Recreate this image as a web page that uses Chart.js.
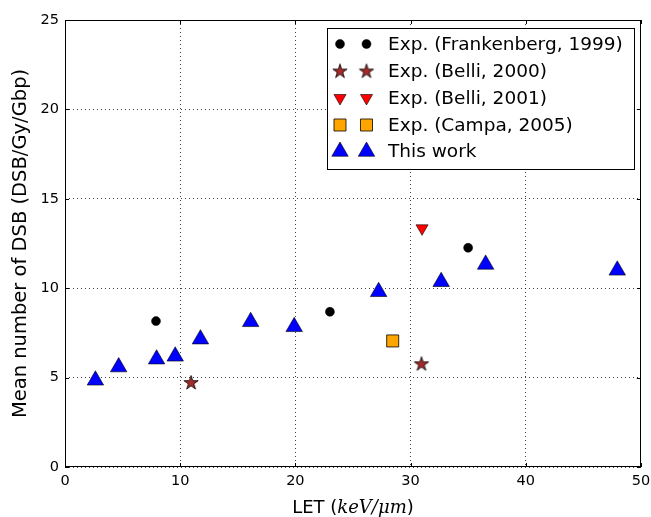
<!DOCTYPE html>
<html>
<head>
<meta charset="utf-8">
<script src="https://cdn.jsdelivr.net/npm/chart.js@4/dist/chart.umd.min.js"></script>
<style>
  html, body { margin: 0; padding: 0; background: #ffffff; }
  #wrap { width: 651px; height: 517px; position: relative; }
</style>
</head>
<body>
<div id="wrap"><canvas id="c" width="651" height="517"></canvas></div>
<script>
// ---- data ----
const franX = [7.9, 23.0, 35.0];
const franY = [8.16, 8.68, 12.26];
const belli2000X = [10.95, 30.95];
const belli2000Y = [4.7, 5.75];
const belli2001X = [31.0];
const belli2001Y = [13.35];
const campaX = [28.45];
const campaY = [7.05];
const workX = [2.64, 4.66, 7.95, 9.57, 11.76, 16.12, 19.9, 27.23, 32.66, 36.52, 47.95];
const workY = [4.85, 5.59, 6.03, 6.19, 7.15, 8.12, 7.84, 9.8, 10.36, 11.33, 11.0];
const xTicks = [0, 10, 20, 30, 40, 50];
const yTicks = [0, 5, 10, 15, 20, 25];
const seriesNames = ["Exp. (Frankenberg, 1999)", "Exp. (Belli, 2000)", "Exp. (Belli, 2001)", "Exp. (Campa, 2005)", "This work"];
const xTitleParts = ["LET (", "keV/\u03bcm", ")"];
const yTitle = "Mean number of DSB (DSB/Gy/Gbp)";

function pts(xs, ys) { return xs.map((x, i) => ({ x: x, y: ys[i] })); }

// filled star marker (Chart.js has no filled star)
function makeStar(outer, fill) {
  const s = Math.ceil(outer * 2 + 3);
  const cv = document.createElement('canvas');
  cv.width = s; cv.height = s;
  const g = cv.getContext('2d');
  const inner = outer * 0.381966;
  g.beginPath();
  for (let i = 0; i < 10; i++) {
    const r = i % 2 === 0 ? outer : inner;
    const a = -Math.PI / 2 + i * Math.PI / 5;
    const px = s / 2 + r * Math.cos(a), py = s / 2 + r * Math.sin(a);
    if (i === 0) g.moveTo(px, py); else g.lineTo(px, py);
  }
  g.closePath();
  g.fillStyle = fill; g.fill();
  g.lineWidth = 0.8; g.strokeStyle = '#000'; g.stroke();
  return cv;
}
const starImg = makeStar(7.5, '#a52a2a');

const styles = [
  { pointStyle: 'circle', radius: 4.5, bg: '#000000', border: '#000000', bw: 0.5, rot: 0 },
  { pointStyle: starImg, radius: 7, bg: '#a52a2a', border: '#000000', bw: 0.8, rot: 0 },
  { pointStyle: 'triangle', radius: 7, bg: '#ff0000', border: '#000000', bw: 0.6, rot: 180 },
  { pointStyle: 'rect', radius: 8.5, bg: '#ffa500', border: '#000000', bw: 0.8, rot: 0 },
  { pointStyle: 'triangle', radius: 9.5, bg: '#0000ff', border: '#000000', bw: 0.6, rot: 0 }
];
const dataSets = [pts(franX, franY), pts(belli2000X, belli2000Y), pts(belli2001X, belli2001Y), pts(campaX, campaY), pts(workX, workY)];

const datasets = dataSets.map((d, i) => ({
  label: seriesNames[i],
  data: d,
  pointStyle: styles[i].pointStyle,
  pointRadius: styles[i].radius,
  pointRotation: styles[i].rot,
  pointBackgroundColor: styles[i].bg,
  pointBorderColor: styles[i].border,
  pointBorderWidth: styles[i].bw,
  showLine: false
}));

function drawMarker(ctx, st, x, y) {
  ctx.save();
  ctx.fillStyle = st.bg;
  ctx.strokeStyle = st.border;
  ctx.lineWidth = st.bw;
  if (typeof st.pointStyle !== 'string') {
    ctx.drawImage(st.pointStyle, x - st.pointStyle.width / 2, y - st.pointStyle.height / 2);
  } else if (Chart.helpers && Chart.helpers.drawPoint) {
    Chart.helpers.drawPoint(ctx, { pointStyle: st.pointStyle, rotation: st.rot, radius: st.radius, borderWidth: st.bw }, x, y);
  }
  ctx.restore();
}

const decor = {
  id: 'decor',
  afterDraw(chart) {
    const ctx = chart.ctx;
    const a = chart.chartArea;
    const xs = chart.scales.x, ys = chart.scales.y;
    ctx.save();
    // frame
    ctx.strokeStyle = '#000';
    ctx.lineWidth = 1;
    ctx.strokeRect(Math.round(a.left) + 0.5, Math.round(a.top) + 0.5, Math.round(a.right - a.left) - 1, Math.round(a.bottom - a.top) - 1);
    // inward ticks on all sides
    ctx.beginPath();
    xTicks.forEach(v => {
      const px = Math.round(xs.getPixelForValue(v)) + 0.5;
      ctx.moveTo(px, a.bottom); ctx.lineTo(px, a.bottom - 4);
      ctx.moveTo(px, a.top); ctx.lineTo(px, a.top + 4);
    });
    yTicks.forEach(v => {
      const py = Math.round(ys.getPixelForValue(v)) + 0.5;
      ctx.moveTo(a.left, py); ctx.lineTo(a.left + 4, py);
      ctx.moveTo(a.right, py); ctx.lineTo(a.right - 4, py);
    });
    ctx.stroke();

    // legend
    const lx = 327.5, ly = 28.5, lw = 307, lh = 141;
    ctx.fillStyle = '#fff';
    ctx.fillRect(lx, ly, lw, lh);
    ctx.strokeStyle = '#000';
    ctx.lineWidth = 1;
    ctx.strokeRect(lx, ly, lw, lh);
    const rows = [44, 71.5, 98, 125, 151.5];
    ctx.font = '18.5px "DejaVu Sans"';
    ctx.textBaseline = 'middle';
    ctx.textAlign = 'left';
    rows.forEach((ry, i) => {
      drawMarker(ctx, styles[i], 340, ry);
      drawMarker(ctx, styles[i], 366.5, ry);
      ctx.fillStyle = '#000';
      ctx.fillText(seriesNames[i], 388, ry + 1);
    });

    // x title with italic math part
    const f1 = '18px "DejaVu Sans"';
    const f2 = 'italic 18px "DejaVu Serif"';
    ctx.font = f1; const w0 = ctx.measureText(xTitleParts[0]).width;
    const w2 = ctx.measureText(xTitleParts[2]).width;
    ctx.font = f2; const w1 = ctx.measureText(xTitleParts[1]).width;
    const total = w0 + w1 + w2;
    let cx = (a.left + a.right) / 2 - total / 2;
    const by = 513;
    ctx.textBaseline = 'alphabetic';
    ctx.fillStyle = '#000';
    ctx.font = f1; ctx.fillText(xTitleParts[0], cx, by); cx += w0;
    ctx.font = f2; ctx.fillText(xTitleParts[1], cx, by); cx += w1;
    ctx.font = f1; ctx.fillText(xTitleParts[2], cx, by);

    // y title
    ctx.save();
    ctx.translate(21, (a.top + a.bottom) / 2);
    ctx.rotate(-Math.PI / 2);
    ctx.font = '19.5px "DejaVu Sans"';
    ctx.textAlign = 'center';
    ctx.textBaseline = 'middle';
    ctx.fillText(yTitle, 0, 0);
    ctx.restore();
    ctx.restore();
  }
};

new Chart(document.getElementById('c'), {
  type: 'scatter',
  data: { datasets: datasets },
  options: {
    responsive: false,
    animation: false,
    events: [],
    layout: { padding: { left: 0, right: 8, top: 20, bottom: 0 } },
    plugins: { legend: { display: false }, tooltip: { enabled: false } },
    scales: {
      x: {
        type: 'linear', min: 0, max: 50,
        afterFit(s) { s.height = 50; s.paddingLeft = 0; s.paddingRight = 0; },
        afterBuildTicks(s) { s.ticks = xTicks.map(v => ({ value: v })); },
        ticks: { color: '#000', font: { family: 'DejaVu Sans', size: 14.5 }, padding: 6, maxRotation: 0 },
        grid: { color: 'rgba(0,0,0,0.75)', lineWidth: 1, drawTicks: false },
        border: { display: false, dash: [1, 3] }
      },
      y: {
        type: 'linear', min: 0, max: 25,
        afterFit(s) { s.width = 65; s.paddingTop = 0; s.paddingBottom = 0; },
        afterBuildTicks(s) { s.ticks = yTicks.map(v => ({ value: v })); },
        ticks: { color: '#000', font: { family: 'DejaVu Sans', size: 14.5 }, padding: 6 },
        grid: { color: 'rgba(0,0,0,0.75)', lineWidth: 1, drawTicks: false },
        border: { display: false, dash: [1, 3] }
      }
    }
  },
  plugins: [decor]
});
</script>
</body>
</html>
